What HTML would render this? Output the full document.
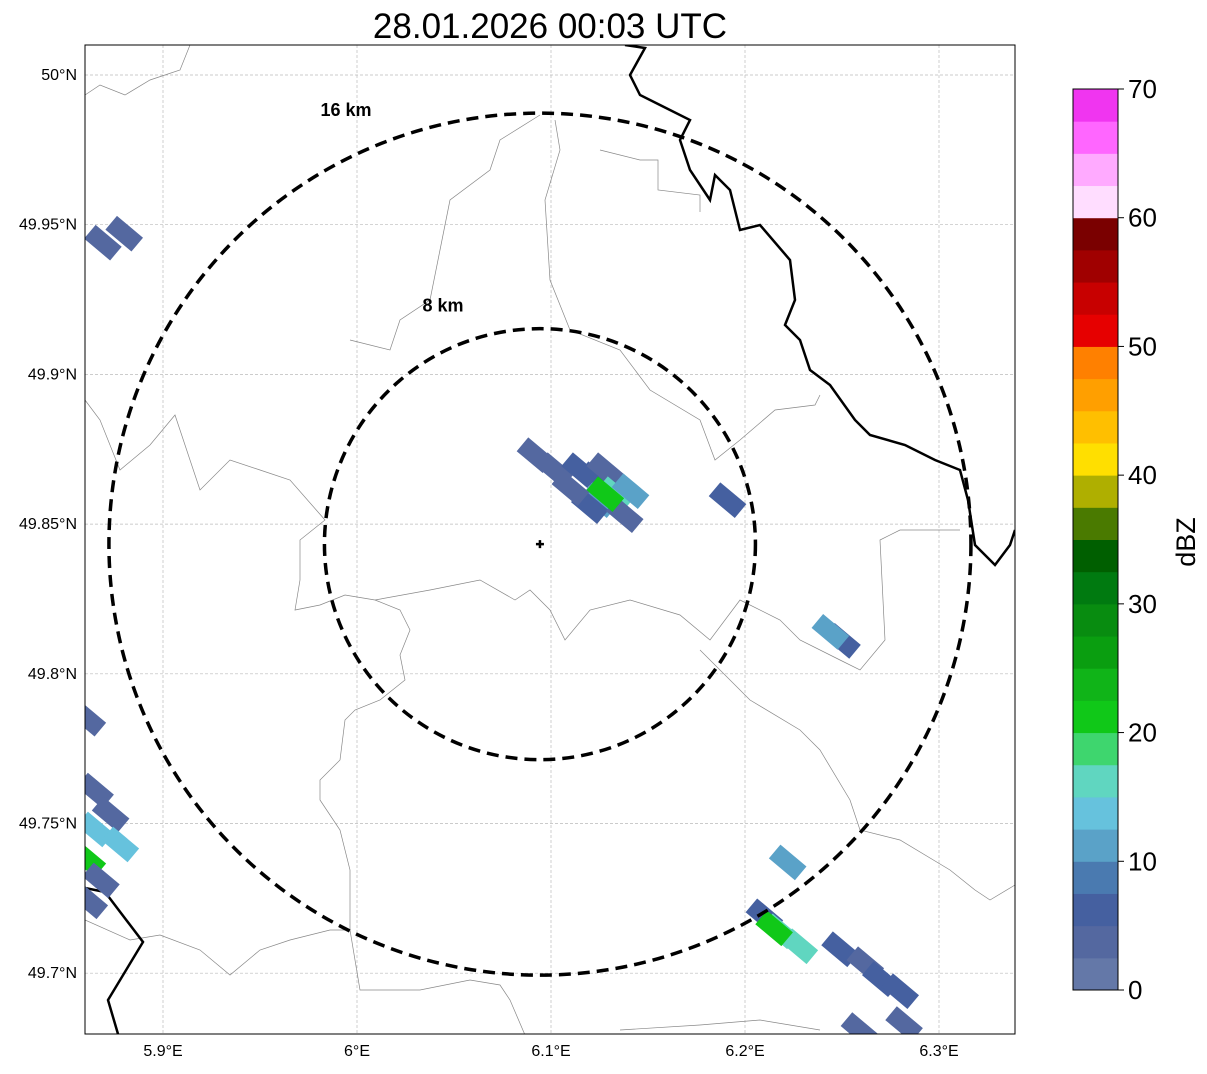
<!DOCTYPE html>
<html><head><meta charset="utf-8"><style>
body{margin:0;background:#fff;}
svg text{font-family:"Liberation Sans",sans-serif;}
</style></head><body>
<svg id="chart" width="1207" height="1069" xmlns="http://www.w3.org/2000/svg">
<defs><clipPath id="mapclip"><rect x="85" y="45" width="930" height="989"/></clipPath></defs>
<text x="550" y="38" font-size="35" text-anchor="middle">28.01.2026 00:03 UTC</text>
<rect x="85" y="45" width="930" height="989" fill="#fff"/>
<g id="grid"></g>
<g clip-path="url(#mapclip)">
<g id="borders"></g>
<g id="cells"></g>
</g>
<g id="rings"></g>
<rect x="85" y="45" width="930" height="989" fill="none" stroke="#000" stroke-width="1"/>
<g id="axes"></g>
<g id="cbar"></g>
<text x="1195" y="542" font-size="27" text-anchor="middle" transform="rotate(-90 1195 542)">dBZ</text>
</svg>
<script>
const lonTicks=[5.9,6.0,6.1,6.2,6.3];
const lonLabels=["5.9°E","6°E","6.1°E","6.2°E","6.3°E"];
const latTicks=[50.0,49.95,49.9,49.85,49.8,49.75,49.7];
const latLabels=["50°N","49.95°N","49.9°N","49.85°N","49.8°N","49.75°N","49.7°N"];
const cellLon=[6.102,6.115,6.123,6.128,6.125,6.133,6.120,6.138,6.141,6.092,6.191,6.250,6.244,5.869,5.880,5.865,5.873,5.865,5.878,5.861,5.868,5.862,5.861,6.222,6.210,6.218,6.228,6.215,6.249,6.262,6.270,6.280,6.259,6.282,6.128,6.110];
const cellLat=[49.868,49.868,49.865,49.868,49.858,49.860,49.856,49.853,49.861,49.873,49.858,49.811,49.814,49.944,49.947,49.761,49.753,49.748,49.743,49.738,49.731,49.724,49.785,49.737,49.719,49.714,49.709,49.715,49.708,49.703,49.698,49.694,49.681,49.683,49.860,49.862];
const cellDbz=[3,5,7,3,12,15,5,3,10,3,5,5,10,3,3,3,3,13,13,20,3,3,3,10,7,15,17,20,5,3,7,5,3,3,20,4];
const cbarLevels=[0,2.5,5,7.5,10,12.5,15,17.5,20,22.5,25,27.5,30,32.5,35,37.5,40,42.5,45,47.5,50,52.5,55,57.5,60,62.5,65,67.5];
const cbarColors=["#6478a8","#5468a0","#4560a0","#4a7ab0","#5aa2c8","#66c2dd","#60d6c0","#3ed66e","#10c818","#10b418","#0a9e10","#088c10","#007a10","#005f00","#4a7a00","#afaf00","#ffdf00","#ffbf00","#ff9f00","#ff8000","#e60000","#c80000","#a00000","#7a0000","#ffddff","#ffaaff","#ff66ff","#f035f0"];
const cbarTicks=[0,10,20,30,40,50,60,70];
const ringKm=[8,16];
const radarLon=6.0943,radarLat=49.8433;

const NS="http://www.w3.org/2000/svg";
const xS=lon=>163+(lon-5.9)*1940;
const yS=lat=>75+(50-lat)*2994;
const kmPx=431/16;
function mk(tag,attrs,parent){const e=document.createElementNS(NS,tag);for(const k in attrs)e.setAttribute(k,attrs[k]);parent.appendChild(e);return e;}
function color(v){let c=cbarColors[0];cbarLevels.forEach((l,i)=>{if(v>=l)c=cbarColors[i];});return c;}

const grid=document.getElementById('grid'),axes=document.getElementById('axes');
lonTicks.forEach((t,i)=>{
 const l=mk('line',{x1:xS(t),x2:xS(t),y1:45,y2:1034,stroke:'#bbb','stroke-width':0.7,'stroke-dasharray':'3,2'},grid);
 
 
 const tx=mk('text',{x:xS(t),y:1056,'font-size':16,'text-anchor':'middle'},axes);tx.textContent=lonLabels[i];
 
 
});
latTicks.forEach((t,i)=>{
 const l=mk('line',{x1:85,x2:1015,y1:yS(t),y2:yS(t),stroke:'#bbb','stroke-width':0.7,'stroke-dasharray':'3,2'},grid);
 
 
 const tx=mk('text',{x:77,y:yS(t)+5,'font-size':16,'text-anchor':'end'},axes);tx.textContent=latLabels[i];
 
 
});

const borders=document.getElementById('borders');
const thin=[
"85,95 100,85 125,95 150,80 180,70 190,45",
"555,120 560,150 545,200 550,280 570,330 620,350 650,390 700,420 715,460 740,440 775,410 815,405 820,395",
"600,150 640,160 658,160 658,190 700,195 700,212",
"350,340 390,350 400,320 430,300 440,250 450,200 490,170 500,140 540,115",
"85,400 100,420 120,470 150,445 175,415 190,460 200,490 230,460 260,470 290,480 325,520 300,540 300,580 295,610 320,605 345,595 375,600 400,610 410,630 400,655 405,680 380,700 355,710 345,720 340,760 320,780 320,800 340,830 350,870 350,930 360,990 420,990 470,980 500,985 510,1000 525,1035",
"85,920 130,940 160,935 200,950 230,975 260,950 290,940 330,930 350,930",
"375,600 430,590 480,580 515,600 530,590 550,610 565,640 590,610 630,600 680,615 710,640 740,600 780,620 800,640 840,660 860,670 885,640 880,540 900,530 960,530",
"700,650 750,700 800,730 820,750 850,800 860,830 900,840 950,870 975,890 990,900 1015,885",
"620,1030 700,1025 760,1020 820,1030"];
thin.forEach(p=>{const e=mk('polyline',{points:p,fill:'none',stroke:'#888','stroke-width':0.7},borders);
 
 });
const thick=["625,45 645,48 630,75 640,95 660,105 690,120 680,140 690,170 710,200 715,175 730,190 740,230 760,225 790,260 795,300 785,325 800,340 810,370 830,385 855,420 870,435 905,445 935,460 960,470 968,500 975,545 995,565 1010,545 1015,530",
"85,888 105,892 143,942 108,1000 118,1034"];
thick.forEach(p=>{const e=mk('polyline',{points:p,fill:'none',stroke:'#000','stroke-width':2.5},borders);
 
 });

const cells=document.getElementById('cells');
cellLon.forEach((lon,i)=>{const x=xS(lon),y=yS(cellLat[i]);
 const r=mk('rect',{x:x-17,y:y-9,width:34,height:18,fill:color(cellDbz[i]),transform:`rotate(40 ${x} ${y})`},cells);
 
 });

const rings=document.getElementById('rings');
const cx=xS(radarLon),cy=yS(radarLat);
ringKm.forEach(km=>{const R=km*kmPx;
 const c=mk('circle',{cx:cx,cy:cy,r:R,fill:'none',stroke:'#000','stroke-width':3.5,'stroke-dasharray':'12,7'},rings);
 
 
 const t=mk('text',{x:cx-R*0.45,y:cy-R+(R>300?3:-17),'font-size':18,'font-weight':'bold','text-anchor':'middle'},rings);t.textContent=km+' km';
 
 });
const m=mk('path',{d:`M${cx-4} ${cy}H${cx+4}M${cx} ${cy-4}V${cy+4}`,stroke:'#000','stroke-width':2.5},rings);



const cb=document.getElementById('cbar');
const cbY=v=>990-v*(901/70);
cbarLevels.forEach((l,i)=>{const r=mk('rect',{x:1073,y:cbY(l+2.5),width:45,height:cbY(l)-cbY(l+2.5)+0.5,fill:cbarColors[i]},cb);
 
 });
mk('rect',{x:1073,y:89,width:45,height:901,fill:'none',stroke:'#000','stroke-width':1},cb);
cbarTicks.forEach(t=>{mk('line',{x1:1118,x2:1124,y1:cbY(t),y2:cbY(t),stroke:'#000'},cb);
 const tx=mk('text',{x:1128,y:cbY(t)+9,'font-size':26},cb);tx.textContent=t;
 
 });
</script>
</body></html>
